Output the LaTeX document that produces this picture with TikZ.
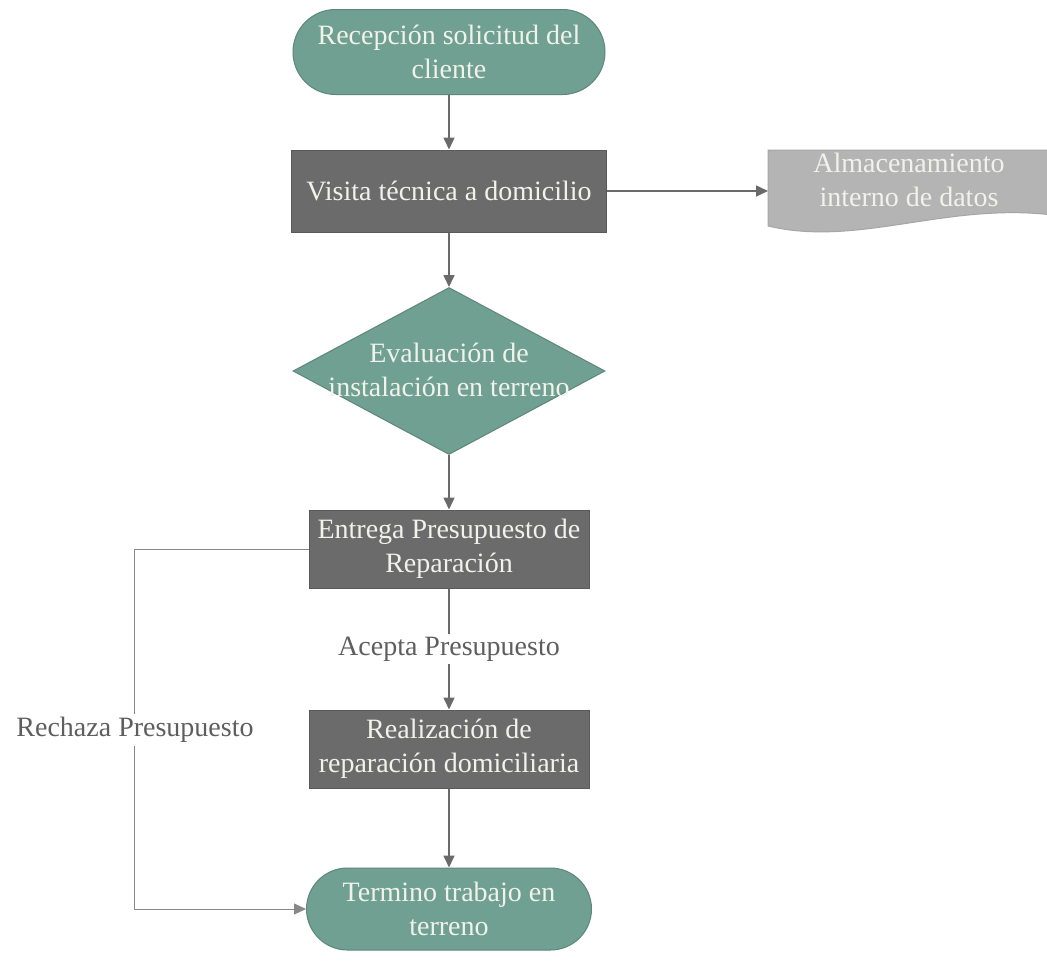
\documentclass[tikz,border=0pt]{standalone}
\usepackage{fontspec}
\setmainfont{Liberation Serif}
\usetikzlibrary{shapes.misc,shapes.geometric,arrows.meta}
\definecolor{tealfill}{HTML}{6FA092}
\definecolor{tealborder}{HTML}{5C8779}
\definecolor{procfill}{HTML}{6B6B6B}
\definecolor{procborder}{HTML}{5A5A5A}
\definecolor{docfill}{HTML}{B4B4B4}
\definecolor{docborder}{HTML}{A6A6A6}
\definecolor{nodetext}{HTML}{F2F2EC}
\definecolor{linegray}{HTML}{6A6A6A}
\definecolor{labelgray}{HTML}{5E5E5E}
\tikzset{
  txt/.style={font=\fontsize{28}{34}\selectfont, align=center},
  term/.style={rounded rectangle, draw=tealborder, fill=tealfill, line width=1pt, text=nodetext, txt, inner sep=0pt},
  proc/.style={rectangle, draw=procborder, fill=procfill, line width=1pt, text=nodetext, txt, inner sep=0pt},
  dec/.style={diamond, draw=tealborder, fill=tealfill, line width=1pt, inner sep=0pt},
  arr/.style={draw=linegray, line width=1.6pt, -{Triangle[length=12pt,width=11pt]}},
  arrthin/.style={draw=linegray!80, line width=1pt, -{Triangle[length=12pt,width=11pt]}},
  lbl/.style={txt, text=labelgray, fill=white, inner sep=3pt},
}
\begin{document}
\begin{tikzpicture}[x=1pt,y=-1pt]
\useasboundingbox (0,0) rectangle (1047,962);
\fill[white] (0,0) rectangle (1047,962);

\node[term, minimum width=312pt, minimum height=85pt] (recep) at (449,52) {Recepción solicitud del\\cliente};
\node[proc, minimum width=315pt, minimum height=82pt] (visita) at (449,191) {Visita técnica a domicilio};

% document shape
\coordinate (docin) at (768,191);
\fill[docfill] (768,150) -- (1060,150) -- (1060,216) .. controls (950,200) and (860,248) .. (768,226) -- cycle;
\draw[docborder, line width=1pt] (1060,150) -- (768,150) -- (768,226) .. controls (860,248) and (950,200) .. (1060,216);
\node[txt, text=nodetext] (doc) at (909,180) {Almacenamiento\\interno de datos};

\node[dec, minimum width=312pt, minimum height=167pt] (eval) at (449,371) {};
\node[txt, text=nodetext] (evaltxt) at (449,370) {Evaluación de\\instalación en terreno};

\node[proc, minimum width=280pt, minimum height=78pt] (entrega) at (449,549) {Entrega Presupuesto de\\Reparación};
\node[proc, minimum width=280pt, minimum height=78pt] (realiz) at (449,749) {Realización de\\reparación domiciliaria};
\node[term, minimum width=285pt, minimum height=82pt] (termino) at (449,909) {Termino trabajo en\\terreno};

\draw[arr] (recep) -- (visita);
\draw[arr] (visita.east) -- (docin);
\draw[arr] (visita) -- (eval.north);
\draw[arr] (eval.south) -- (entrega);
\draw[arr] (entrega) -- node[lbl] (acepta) {Acepta Presupuesto} (realiz);
\draw[arr] (realiz) -- (termino);
\draw[arrthin] (entrega.west) -- ++(-174,0) |- (termino.west);
\node[lbl] (rechaza) at (135,730) {Rechaza Presupuesto};
\end{tikzpicture}
\end{document}
